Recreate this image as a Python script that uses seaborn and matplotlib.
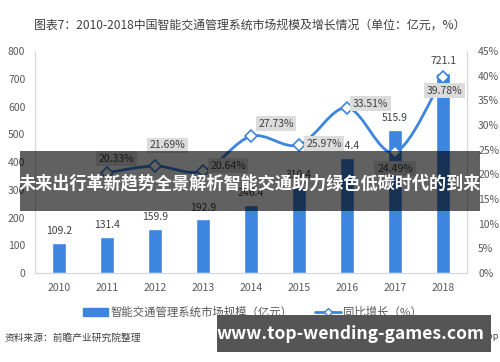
import numpy as np
import matplotlib
matplotlib.use('Agg')
import matplotlib.pyplot as plt
from matplotlib.path import Path
from matplotlib.patches import PathPatch, Patch, Rectangle
from matplotlib.lines import Line2D
import seaborn as sns

# data
years = ['2010', '2011', '2012', '2013', '2014', '2015', '2016', '2017', '2018']
market_size = [109.2, 131.4, 159.9, 192.9, 246.4, 310.4, 414.4, 515.9, 721.1]
growth_years = ['2011', '2012', '2013', '2014', '2015', '2016', '2017', '2018']
growth = [20.33, 21.69, 20.64, 27.73, 25.97, 33.51, 24.49, 39.78]

title = '图表7：2010-2018中国智能交通管理系统市场规模及增长情况（单位：亿元，%）'
bar_name = '智能交通管理系统市场规模（亿元）'
line_name = '同比增长（%）'
source = '资料来源：前瞻产业研究院整理'
banner = '未来出行革新趋势全景解析智能交通助力绿色低碳时代的到来'
site = 'www.top-wending-games.com'

# label offsets for growth boxes (points)
lab_off = [(7, 10), (9, 15), (18, 4), (18, 9), (18, 1), (17, 3), (0, -12), (1, -10)]

sns.set_style('white')
plt.rcParams['font.family'] = ['Noto Sans CJK SC', 'DejaVu Sans']

bar_c = '#3d85de'
grey = '#595959'
dark = '#404040'

fig = plt.figure(figsize=(5, 3.62), dpi=100)
ax = fig.add_axes([0.07, 0.2459, 0.864, 0.613])

sns.barplot(x=years, y=market_size, color=bar_c, width=0.31, saturation=1, ax=ax)
ax.set_xlim(-0.5, 8.5)
ax.set_ylim(0, 800)
ax.set_yticks(range(0, 801, 100))
ax.set_xlabel('')
ax.set_ylabel('')
for i, v in enumerate(market_size):
    ax.annotate(f'{v:.1f}', (i, v), xytext=(0, 5), textcoords='offset points',
                ha='center', va='bottom', fontsize=7.5, color=dark)

ax2 = ax.twinx()
ax2.set_ylim(0, 45)
ax2.set_yticks(range(0, 46, 5))
ax2.set_yticklabels([f'{t}%' for t in range(0, 46, 5)])

# smooth line like excel (catmull-rom bezier)
xs = np.array([years.index(y) for y in growth_years], dtype=float)
ys = np.array(growth)
pts = np.column_stack([xs, ys])
verts = [pts[0]]
codes = [Path.MOVETO]
n = len(pts)
for i in range(n - 1):
    p0 = pts[max(i - 1, 0)]
    p1 = pts[i]
    p2 = pts[i + 1]
    p3 = pts[min(i + 2, n - 1)]
    c1 = p1 + (p2 - p0) / 6
    c2 = p2 - (p3 - p1) / 6
    verts += [c1, c2, p2]
    codes += [Path.CURVE4] * 3
ax2.add_patch(PathPatch(Path(verts, codes), fill=False, edgecolor=bar_c, lw=2, zorder=3))
ax2.plot(xs, ys, ls='none', marker='D', ms=6.5, mfc='white', mec=bar_c, mew=1.2, zorder=4)

for x, y, (dx, dy) in zip(xs, ys, lab_off):
    ax2.annotate(f'{y:.2f}%', (x, y), xytext=(dx, dy), textcoords='offset points',
                 ha='center', va='center', fontsize=7.5, color=dark, zorder=5,
                 bbox=dict(boxstyle='square,pad=0.25', fc='#dcdcdc', ec='none'))

for a in (ax, ax2):
    a.tick_params(length=0, labelsize=7.5, labelcolor=grey)
    for s in a.spines.values():
        s.set_color('#d9d9d9')
        s.set_linewidth(0.8)
    a.spines['top'].set_visible(False)
ax.tick_params(axis='y', pad=7)
ax.tick_params(axis='x', pad=7)
ax2.tick_params(axis='y', pad=8)

fig.text(0.5, 1 - 25 / 362, title, ha='center', va='center', fontsize=8.6, color=dark)

handles = [Patch(color=bar_c),
           Line2D([], [], color=bar_c, lw=2, marker='D', ms=4, mfc='white', mec=bar_c)]
fig.legend(handles, [bar_name, line_name], loc='center', bbox_to_anchor=(0.505, 1 - 312 / 362),
           ncol=2, frameon=False, fontsize=8.2, labelcolor=grey, handlelength=2.2,
           handletextpad=0.2, columnspacing=2.0)

fig.text(0.01, 1 - 338 / 362, source, ha='left', va='center', fontsize=7, color=dark)
fig.text(0.998, 1 - 338 / 362, '@前瞻经济学人APP', ha='right', va='center', fontsize=6.5, color=dark)

# overlay banners
fig.patches.append(Rectangle((20 / 500, 1 - 211 / 362), 460 / 500, 60 / 362,
                             transform=fig.transFigure, fc='black', alpha=0.62, ec='none', zorder=10))
fig.text(0.5, 1 - 183 / 362, banner, ha='center', va='center', fontsize=12.3,
         fontweight='bold', color='white', zorder=11)
fig.patches.append(Rectangle((217 / 500, 1 - 352 / 362), 274 / 500, 37 / 362,
                             transform=fig.transFigure, fc='#555555', ec='none', zorder=10))
fig.text(350 / 500, 1 - 334 / 362, site, ha='center', va='center', fontsize=12.6,
         fontweight='bold', color='white', zorder=11)

fig.savefig('out.png', dpi=100)
